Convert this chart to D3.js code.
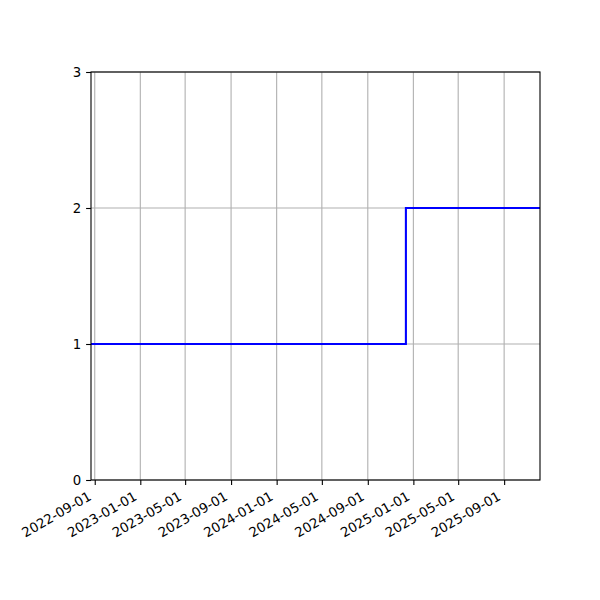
<!DOCTYPE html>
<html>
<head>
<meta charset="utf-8">
<script src="https://cdn.jsdelivr.net/npm/d3@7"></script>
<style>
  html, body { margin: 0; padding: 0; background: #fff; }
  text { font-family: "DejaVu Sans", sans-serif; }
</style>
</head>
<body>
<svg id="chart" width="600" height="600"></svg>
<script>
// Data
const stepDates = ["2022-08-22", "2024-12-12", "2025-12-06"];
const stepValues = [1, 2, 2];
const xDomain = ["2022-08-22", "2025-12-06"];
const yTicks = [0, 1, 2, 3];
const xTickLabels = ["2022-09-01", "2023-01-01", "2023-05-01", "2023-09-01", "2024-01-01",
                     "2024-05-01", "2024-09-01", "2025-01-01", "2025-05-01", "2025-09-01"];

const parse = d3.utcParse("%Y-%m-%d");
const margin = { left: 91, right: 60, top: 72, bottom: 120 };
const W = 600, H = 600;
const iw = W - margin.left - margin.right;
const ih = H - margin.top - margin.bottom;

const svg = d3.select("#chart");
const g = svg.append("g").attr("transform", `translate(${margin.left},${margin.top})`);

const x = d3.scaleUtc().domain(xDomain.map(parse)).range([0, iw]);
const y = d3.scaleLinear().domain([0, 3]).range([ih, 0]);

// Grid
g.append("g").selectAll("line").data(xTickLabels).join("line")
  .attr("x1", d => x(parse(d))).attr("x2", d => x(parse(d)))
  .attr("y1", 0).attr("y2", ih)
  .attr("stroke", "#b0b0b0").attr("stroke-width", 1.1);
g.append("g").selectAll("line").data(yTicks).join("line")
  .attr("x1", 0).attr("x2", iw)
  .attr("y1", d => y(d)).attr("y2", d => y(d))
  .attr("stroke", "#b0b0b0").attr("stroke-width", 1.1);

// Step line
const data = stepDates.map((d, i) => ({ date: parse(d), value: stepValues[i] }));
g.append("path").datum(data)
  .attr("fill", "none").attr("stroke", "#0000ff").attr("stroke-width", 2.08)
  .attr("d", d3.line().x(d => x(d.date)).y(d => y(d.value)).curve(d3.curveStepAfter));

// X axis
const xAxis = d3.axisBottom(x).tickValues(xTickLabels.map(parse))
  .tickFormat(d3.utcFormat("%Y-%m-%d")).tickSize(4.9).tickPadding(3.5);
const xg = g.append("g").attr("transform", `translate(0,${ih})`).call(xAxis);
xg.select(".domain").remove();
xg.selectAll(".tick line").attr("stroke", "#000").attr("stroke-width", 1.1);
xg.selectAll(".tick text")
  .attr("font-size", "13.3px").attr("font-family", "DejaVu Sans").attr("fill", "#000")
  .attr("text-anchor", "end").attr("y", 0).attr("dy", 0)
  .attr("transform", "translate(-3,19) rotate(-30)");

// Y axis
const yAxis = d3.axisLeft(y).tickValues(yTicks).tickFormat(d3.format("d")).tickSize(4.9).tickPadding(5);
const yg = g.append("g").call(yAxis);
yg.select(".domain").remove();
yg.selectAll(".tick line").attr("stroke", "#000").attr("stroke-width", 1.1);
yg.selectAll(".tick text").attr("font-size", "13.3px").attr("font-family", "DejaVu Sans").attr("fill", "#000");

// Frame
g.append("rect").attr("x", 0).attr("y", 0).attr("width", iw).attr("height", ih)
  .attr("fill", "none").attr("stroke", "#000").attr("stroke-width", 1.1);
</script>
</body>
</html>
